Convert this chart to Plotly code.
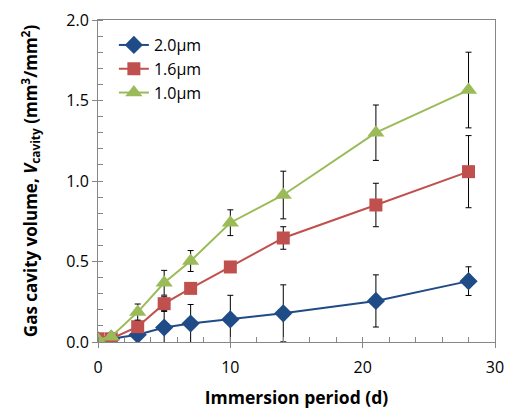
import plotly.graph_objects as go

days = [0, 1, 3, 5, 7, 10, 14, 21, 28]
names = ["2.0µm", "1.6µm", "1.0µm"]
v_20 = [0.01, 0.02, 0.045, 0.09, 0.115, 0.14, 0.178, 0.255, 0.378]
e_20 = [0.0, 0.0, 0.03, 0.10, 0.118, 0.15, 0.177, 0.162, 0.089]
v_16 = [0.02, 0.02, 0.095, 0.238, 0.333, 0.466, 0.646, 0.851, 1.058]
e_16 = [0.0, 0.0, 0.0, 0.043, 0.0, 0.0, 0.07, 0.135, 0.224]
v_10 = [0.015, 0.033, 0.186, 0.368, 0.503, 0.741, 0.913, 1.30, 1.565]
e_10 = [0.0, 0.0, 0.05, 0.077, 0.065, 0.08, 0.148, 0.172, 0.235]

colors = ["#1F4B87", "#C0504D", "#9BBB59"]
symbols = ["diamond", "square", "triangle-up"]
sizes = [14, 13, 15]

fig = go.Figure()
for name, v, e, c, s, sz in zip(names, [v_20, v_16, v_10], [e_20, e_16, e_10], colors, symbols, sizes):
    fig.add_trace(go.Scatter(
        x=days, y=v, name=name, mode="lines+markers",
        line=dict(color=c, width=2),
        marker=dict(symbol=s, size=sz, color=c),
        error_y=dict(type="data", array=e, visible=True, color="black", thickness=1, width=3),
    ))

font = "Open Sans, Liberation Sans, sans-serif"
fig.update_layout(
    width=506, height=412,
    margin=dict(l=98, r=11, t=20, b=70),
    paper_bgcolor="white", plot_bgcolor="white",
    font=dict(family=font, size=16, color="black"),
    showlegend=True,
    legend=dict(x=0.04, y=0.975, xanchor="left", yanchor="top",
                font=dict(size=16), bgcolor="rgba(0,0,0,0)", tracegroupgap=0,
                itemwidth=30),
    xaxis=dict(
        range=[0, 30], dtick=10, tick0=0, showgrid=False, zeroline=False,
        showline=True, linecolor="#868686", linewidth=1, mirror=True,
        ticks="outside", ticklen=5, tickcolor="#868686", automargin=False,
        minor=dict(dtick=2, ticks="inside", ticklen=5, tickcolor="#868686"),
        title=dict(text="<b>Immersion period (d)</b>", font=dict(size=17.5), standoff=14),
        tickfont=dict(size=16), ticklabelstandoff=6,
    ),
    yaxis=dict(
        range=[0, 2.0], dtick=0.5, tick0=0, tickformat=".1f", showgrid=False, zeroline=False,
        showline=True, linecolor="#868686", linewidth=1, mirror=True,
        ticks="outside", ticklen=5, tickcolor="#868686", automargin=False,
        minor=dict(dtick=0.1, ticks="inside", ticklen=5, tickcolor="#868686"),
        title=dict(text="<b>Gas cavity volume, <i>V</i><sub>cavity</sub> (mm<sup>3</sup>/mm<sup>2</sup>)</b>",
                   font=dict(size=17), standoff=24),
        tickfont=dict(size=16),
    ),
)
fig.write_html("out.html")
